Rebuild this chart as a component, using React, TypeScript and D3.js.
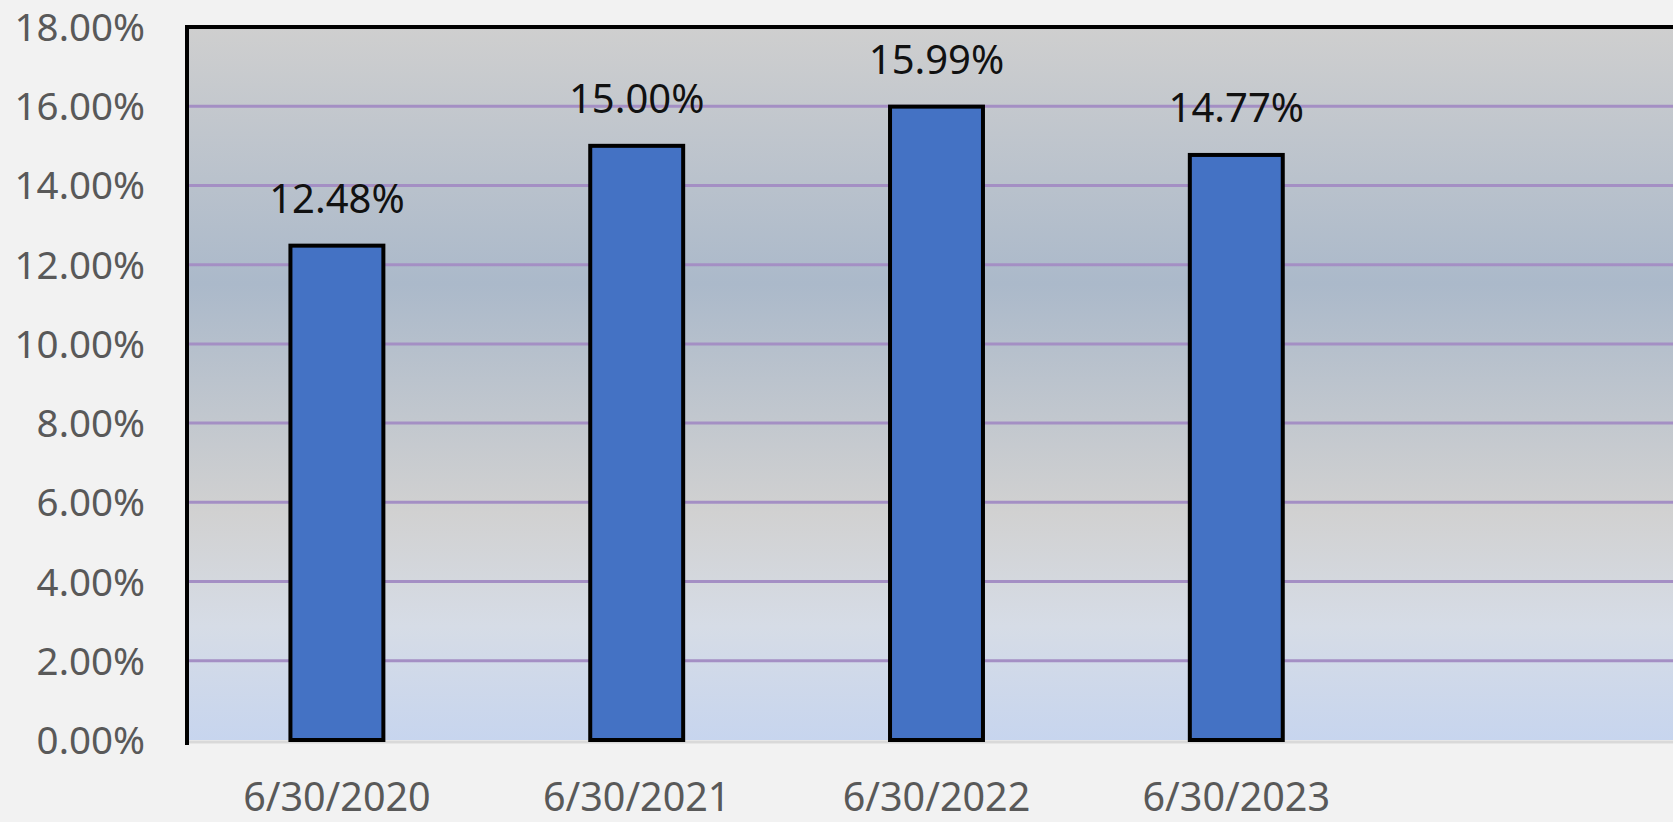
import React from "react";
import * as d3 from "d3";

const categories = ["6/30/2020", "6/30/2021", "6/30/2022", "6/30/2023", ""];
const values = [12.48, 15.0, 15.99, 14.77];
const yTicks = [0, 2, 4, 6, 8, 10, 12, 14, 16, 18];

const W = 1673;
const H = 822;
const left = 187;
const top = 27;
const bottom = 740;
const step = 299.8;
const right = left + categories.length * step;

export default function App() {
  const x = d3
    .scaleBand<string>()
    .domain(categories)
    .range([left, right])
    .paddingInner(0.69)
    .paddingOuter(0.345);
  const y = d3.scaleLinear().domain([0, 18]).range([bottom, top]);
  const font = "'Noto Sans', 'Open Sans', sans-serif";

  return (
    <svg
      width={W}
      height={H}
      style={{ position: "absolute", left: 0, top: 0, display: "block" }}
    >
      <defs>
        <linearGradient id="plotBg" x1="0" y1="0" x2="0" y2="1">
          <stop offset="0" stopColor="#CFCFCF" />
          <stop offset="0.36" stopColor="#ABB9CA" />
          <stop offset="0.68" stopColor="#D1D1D1" />
          <stop offset="0.84" stopColor="#D6DCE6" />
          <stop offset="1" stopColor="#C7D5EE" />
        </linearGradient>
      </defs>
      <rect x={0} y={0} width={W} height={H} fill="#F2F2F2" />
      <rect x={left} y={top} width={W - left} height={bottom - top} fill="url(#plotBg)" />
      {/* gridlines */}
      {yTicks.slice(1, -1).map((t) => (
        <line
          key={t}
          x1={left}
          x2={W}
          y1={y(t)}
          y2={y(t)}
          stroke="#A48FC4"
          strokeWidth={3}
        />
      ))}
      {/* x axis baseline */}
      <line x1={left} x2={W} y1={bottom + 2} y2={bottom + 2} stroke="#D9D9D9" strokeWidth={3} />
      {/* bars */}
      {values.map((v, i) => (
        <rect
          key={i}
          x={x(categories[i])!}
          y={y(v)}
          width={x.bandwidth()}
          height={bottom - y(v)}
          fill="#4472C4"
          stroke="#000"
          strokeWidth={4}
        />
      ))}
      {/* borders */}
      <line x1={left} x2={W} y1={top} y2={top} stroke="#000" strokeWidth={4} />
      <line x1={left} x2={left} y1={top - 2} y2={bottom + 5} stroke="#000" strokeWidth={4} />
      {/* data labels */}
      {values.map((v, i) => (
        <text
          key={i}
          x={x(categories[i])! + x.bandwidth() / 2}
          y={y(v) - 33}
          textAnchor="middle"
          fontFamily={font}
          fontSize={40}
          fill="#111"
        >
          {v.toFixed(2) + "%"}
        </text>
      ))}
      {/* y tick labels */}
      {yTicks.map((t) => (
        <text
          key={t}
          x={145}
          y={y(t) + 14}
          textAnchor="end"
          fontFamily={font}
          fontSize={38.5}
          fill="#595959"
        >
          {t.toFixed(2) + "%"}
        </text>
      ))}
      {/* x tick labels */}
      {categories.map((c) => (
        <text
          key={c || "blank"}
          x={x(c)! + x.bandwidth() / 2}
          y={811}
          textAnchor="middle"
          fontFamily={font}
          fontSize={39.5}
          fill="#595959"
        >
          {c}
        </text>
      ))}
    </svg>
  );
}
